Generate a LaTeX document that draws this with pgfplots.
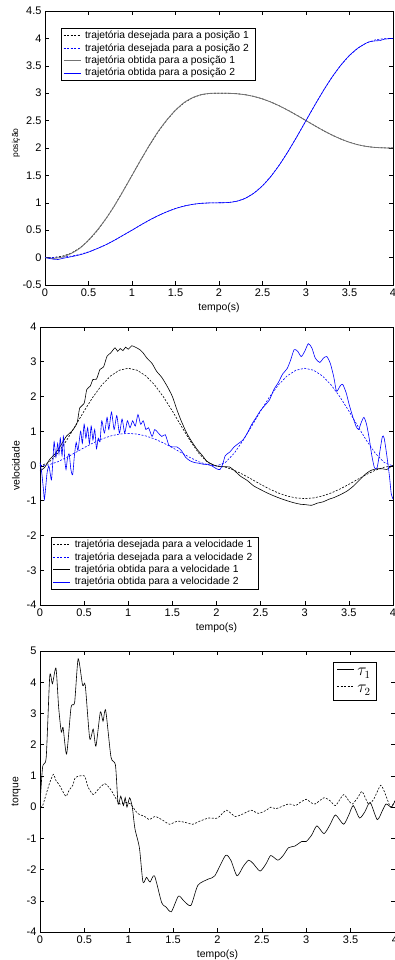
\documentclass[border=0pt]{standalone}
\usepackage{fontspec}
\setmainfont{Liberation Sans}
\usepackage{pgfplots}
\pgfplotsset{compat=1.18}
\definecolor{mblue}{rgb}{0,0,1}
\newcommand{\fs}{\fontsize{11}{13}\selectfont}
\newcommand{\fl}{\fontsize{10.3}{12}\selectfont}
\newcommand{\fx}{\fontsize{10.4}{12}\selectfont}
\pgfplotsset{
  mstyle/.style={
    scale only axis, anchor=south west,
    xmin=0, xmax=4,
    xtick={0,0.5,1,1.5,2,2.5,3,3.5,4},
    tick align=inside,
    major tick length=4pt,
    ticklabel style={font=\fs},
    /pgf/number format/assume math mode=true,
    xlabel={tempo(s)},
    every axis x label/.style={at={(rel axis cs:0.5,0)}, yshift=-23pt, anchor=center, font=\fx},
    axis line style={line width=0.5pt},
    every tick/.style={line width=0.5pt, black},
    legend cell align=left,
    legend style={font=\fl, draw=black, line width=0.5pt, inner xsep=2pt, inner ysep=1.5pt, row sep=0.3pt, fill=white,
      nodes={inner ysep=1.5pt, inner xsep=4pt}},
    legend image code/.code={\draw[##1] (0pt,0pt) -- (17pt,0pt);},
    every axis plot/.append style={line width=0.6pt},
  },
  ylab/.style 2 args={ylabel={#1}, every axis y label/.style={at={(rel axis cs:0,0.5)}, xshift=-#2, rotate=90, anchor=center, font=\fx}},
  dsh/.style={dash pattern=on 2pt off 1.5pt},
}
\begin{document}
\begin{tikzpicture}
% ---------------- Plot 1: posicao ----------------
\begin{axis}[mstyle, at={(45pt,675pt)}, width=348pt, height=274pt,
  ymin=-0.5, ymax=4.5, ytick={-0.5,0,0.5,1,1.5,2,2.5,3,3.5,4,4.5},
  ylabel={posição},
  every axis y label/.style={at={(rel axis cs:0,0.5)}, xshift=-29pt, yshift=5pt, rotate=90, anchor=center, font=\fontsize{8.5}{10}\selectfont},
  legend style={at={(0.046,0.938)}, anchor=north west}]
\addplot[black, dsh] coordinates {
(0,0) (0.1,0.0035) (0.2,0.0257) (0.3,0.0798) (0.4,0.1738) (0.5,0.3106) (0.6,0.4892) (0.7,0.7055) (0.8,0.9523) (0.9,1.2206) (1.0,1.5) (1.1,1.7794) (1.2,2.0477) (1.3,2.2945) (1.4,2.5108) (1.5,2.6894) (1.6,2.8262) (1.7,2.9202) (1.8,2.9743) (1.9,2.9965) (2.0,3)
(2.1,2.9988) (2.2,2.9914) (2.3,2.9734) (2.4,2.9421) (2.5,2.8965) (2.6,2.8369) (2.7,2.7648) (2.8,2.6826) (2.9,2.5931) (3.0,2.5) (3.1,2.4069) (3.2,2.3174) (3.3,2.2352) (3.4,2.1631) (3.5,2.1035) (3.6,2.0579) (3.7,2.0266) (3.8,2.0086) (3.9,2.0012) (4.0,2)};
\addlegendentry{trajetória desejada para a posição 1}
\addplot[mblue, dsh] coordinates {
(0,0) (0.1,0.0012) (0.2,0.0086) (0.3,0.0266) (0.4,0.0579) (0.5,0.1035) (0.6,0.1631) (0.7,0.2352) (0.8,0.3174) (0.9,0.4069) (1.0,0.5) (1.1,0.5931) (1.2,0.6826) (1.3,0.7648) (1.4,0.8369) (1.5,0.8965) (1.6,0.9421) (1.7,0.9734) (1.8,0.9914) (1.9,0.9988) (2.0,1)
(2.1,1.0035) (2.2,1.0257) (2.3,1.0798) (2.4,1.1738) (2.5,1.3106) (2.6,1.4892) (2.7,1.7055) (2.8,1.9523) (2.9,2.2206) (3.0,2.5) (3.1,2.7794) (3.2,3.0477) (3.3,3.2945) (3.4,3.5108) (3.5,3.6894) (3.6,3.8262) (3.7,3.9202) (3.8,3.9743) (3.9,3.9965) (4.0,4)};
\addlegendentry{trajetória desejada para a posição 2}
\addplot[black!55, line width=0.8pt, smooth] coordinates {
(0,0) (0.1,-0.015) (0.2,0.01) (0.3,0.075) (0.4,0.17) (0.5,0.32) (0.6,0.5) (0.7,0.71) (0.8,0.95) (0.9,1.22) (1.0,1.5) (1.1,1.78) (1.2,2.05) (1.3,2.3) (1.4,2.51) (1.5,2.69) (1.6,2.83) (1.7,2.92) (1.8,2.975) (1.9,2.997) (2.0,3)
(2.1,2.999) (2.2,2.99) (2.3,2.972) (2.4,2.94) (2.5,2.895) (2.6,2.835) (2.7,2.763) (2.8,2.681) (2.9,2.592) (3.0,2.5) (3.1,2.407) (3.2,2.318) (3.3,2.236) (3.4,2.164) (3.5,2.104) (3.6,2.058) (3.7,2.027) (3.8,2.01) (3.9,2.002) (4.0,2)};
\addlegendentry{trajetória obtida para a posição 1}
\addplot[mblue, line width=0.6pt, smooth] coordinates {
(0,0) (0.1,-0.03) (0.15,-0.035) (0.2,-0.015) (0.3,0.015) (0.4,0.05) (0.5,0.1) (0.6,0.165) (0.7,0.235) (0.8,0.318) (0.9,0.41) (1.0,0.5) (1.1,0.595) (1.2,0.685) (1.3,0.765) (1.4,0.835) (1.5,0.895) (1.6,0.94) (1.7,0.972) (1.8,0.99) (1.9,0.998) (2.0,1)
(2.1,1.004) (2.2,1.027) (2.3,1.08) (2.4,1.175) (2.5,1.31) (2.6,1.488) (2.7,1.705) (2.8,1.952) (2.9,2.22) (3.0,2.5) (3.1,2.779) (3.2,3.047) (3.3,3.294) (3.4,3.51) (3.5,3.69) (3.6,3.826) (3.7,3.92) (3.75,3.945) (3.8,3.955) (3.85,3.96) (3.9,3.985) (4.0,4)};
\addlegendentry{trajetória obtida para a posição 2}
\end{axis}
% ---------------- Plot 2: velocidade ----------------
\begin{axis}[mstyle, at={(40pt,355pt)}, width=353pt, height=278pt,
  ymin=-4, ymax=4, ytick={-4,-3,-2,-1,0,1,2,3,4},
  ylab={velocidade}{24pt},
  legend style={at={(0.031,0.245)}, anchor=north west}]
\addplot[black, dsh] coordinates {
(0,0) (0.1,0.1015) (0.2,0.3645) (0.3,0.7315) (0.4,1.152) (0.5,1.582) (0.6,1.9845) (0.7,2.329) (0.8,2.592) (0.9,2.7565) (1.0,2.8125) (1.1,2.7565) (1.2,2.592) (1.3,2.329) (1.4,1.9845) (1.5,1.582) (1.6,1.152) (1.7,0.7315) (1.8,0.3645) (1.9,0.1015) (2.0,0)
(2.1,-0.0338) (2.2,-0.1215) (2.3,-0.2438) (2.4,-0.384) (2.5,-0.5273) (2.6,-0.6615) (2.7,-0.7763) (2.8,-0.864) (2.9,-0.9188) (3.0,-0.9375) (3.1,-0.9188) (3.2,-0.864) (3.3,-0.7763) (3.4,-0.6615) (3.5,-0.5273) (3.6,-0.384) (3.7,-0.2438) (3.8,-0.1215) (3.9,-0.0338) (4.0,0)};
\addlegendentry{trajetória desejada para a velocidade 1}
\addplot[mblue, dsh] coordinates {
(0,0) (0.1,0.0338) (0.2,0.1215) (0.3,0.2438) (0.4,0.384) (0.5,0.5273) (0.6,0.6615) (0.7,0.7763) (0.8,0.864) (0.9,0.9188) (1.0,0.9375) (1.1,0.9188) (1.2,0.864) (1.3,0.7763) (1.4,0.6615) (1.5,0.5273) (1.6,0.384) (1.7,0.2438) (1.8,0.1215) (1.9,0.0338) (2.0,0)
(2.1,0.1015) (2.2,0.3645) (2.3,0.7315) (2.4,1.152) (2.5,1.582) (2.6,1.9845) (2.7,2.329) (2.8,2.592) (2.9,2.7565) (3.0,2.8125) (3.1,2.7565) (3.2,2.592) (3.3,2.329) (3.4,1.9845) (3.5,1.582) (3.6,1.152) (3.7,0.7315) (3.8,0.3645) (3.9,0.1015) (4.0,0)};
\addlegendentry{trajetória desejada para a velocidade 2}
\addplot[black, smooth, tension=0.4] coordinates {
(0,-0.14) (0.05,-0.05) (0.11,0.19) (0.17,0.35) (0.23,0.57) (0.3,0.86) (0.36,1.0) (0.42,1.24) (0.45,1.67) (0.5,1.8) (0.53,2.2) (0.57,2.3) (0.6,2.49) (0.64,2.5) (0.68,2.78) (0.72,2.85) (0.76,3.16) (0.8,3.25) (0.85,3.40) (0.88,3.3) (0.91,3.38) (0.94,3.32) (0.97,3.42) (1.0,3.36) (1.04,3.46) (1.08,3.42) (1.13,3.35) (1.17,3.25) (1.21,3.11) (1.27,2.95) (1.32,2.73) (1.38,2.55) (1.44,2.30) (1.5,2.0) (1.55,1.63) (1.6,1.3) (1.66,0.96) (1.72,0.7) (1.78,0.48) (1.84,0.3) (1.89,0.14) (1.95,0.05) (2.0,0) (2.08,-0.02) (2.15,-0.03) (2.21,-0.15) (2.27,-0.29) (2.35,-0.42) (2.42,-0.57) (2.5,-0.68) (2.57,-0.77) (2.65,-0.86) (2.72,-0.93) (2.8,-1.0) (2.88,-1.06) (2.95,-1.10) (3.0,-1.11) (3.08,-1.13) (3.14,-1.07) (3.21,-1.03) (3.27,-0.96) (3.33,-0.91) (3.4,-0.83) (3.48,-0.72) (3.55,-0.58) (3.63,-0.38) (3.68,-0.25) (3.74,-0.14) (3.78,-0.1) (3.82,-0.08) (3.88,-0.08) (3.93,-0.1) (3.97,-0.03) (4.0,0.02)};
\addlegendentry{trajetória obtida para a velocidade 1}
\addplot[mblue, smooth, tension=0.4] coordinates {
(0,0.1) (0.02,-0.2) (0.04,-0.7) (0.05,-0.96) (0.065,-0.6) (0.08,-0.2) (0.1,0.0) (0.115,-0.2) (0.13,-0.4) (0.145,0.1) (0.16,0.7) (0.18,0.25) (0.2,0.65) (0.215,0.35) (0.23,0.8) (0.25,0.3) (0.265,0.85) (0.28,0.2) (0.295,-0.1) (0.31,0.2) (0.33,0.35) (0.35,-0.1) (0.37,-0.25) (0.39,0.3) (0.41,0.68) (0.43,0.45) (0.46,1.0) (0.48,0.65) (0.5,1.2) (0.52,0.8) (0.54,1.1) (0.56,0.65) (0.58,1.15) (0.6,0.75) (0.62,1.05) (0.64,0.5) (0.66,0.8) (0.68,0.7) (0.7,1.3) (0.73,0.95) (0.76,1.4) (0.78,1.05) (0.81,1.55) (0.84,1.05) (0.87,1.45) (0.9,0.95) (0.93,1.35) (0.96,0.95) (0.99,1.3) (1.02,1.1) (1.05,1.3) (1.08,1.15) (1.11,1.48) (1.14,1.2) (1.17,1.3) (1.2,1.05) (1.23,1.1) (1.27,0.85) (1.3,1.05) (1.34,0.95) (1.38,0.85) (1.42,0.9) (1.46,0.6) (1.5,0.55) (1.55,0.55) (1.6,0.45) (1.65,0.25) (1.7,0.15) (1.75,0.1) (1.8,0.08) (1.85,0.05) (1.9,0.05) (1.95,0.0) (2.0,-0.08) (2.04,-0.1) (2.07,0.05) (2.1,0.3) (2.15,0.4) (2.2,0.55) (2.25,0.65) (2.3,0.75) (2.35,0.95) (2.4,1.2) (2.45,1.4) (2.5,1.6) (2.55,1.75) (2.6,1.9) (2.65,2.2) (2.7,2.4) (2.75,2.65) (2.8,2.8) (2.84,3.05) (2.88,3.35) (2.92,3.3) (2.96,3.15) (3.0,3.3) (3.04,3.52) (3.08,3.4) (3.12,3.1) (3.17,2.98) (3.21,3.1) (3.25,3.15) (3.29,2.95) (3.33,2.55) (3.36,2.15) (3.4,2.3) (3.43,2.35) (3.47,2.1) (3.5,1.8) (3.54,1.45) (3.58,1.15) (3.61,1.05) (3.64,1.25) (3.67,1.4) (3.7,1.2) (3.73,0.8) (3.76,0.3) (3.79,-0.05) (3.82,-0.05) (3.85,0.4) (3.88,0.85) (3.9,0.8) (3.93,0.3) (3.96,-0.3) (3.98,-0.8) (4.0,-0.95)};
\addlegendentry{trajetória obtida para a velocidade 2}
\end{axis}
% ---------------- Plot 3: torque ----------------
\begin{axis}[mstyle, at={(40pt,28pt)}, width=355pt, height=281pt,
  ymin=-4, ymax=5, ytick={-4,-3,-2,-1,0,1,2,3,4,5},
  ylab={torque}{24pt},
  legend style={at={(0.949,0.961)}, anchor=north east, font=\fontsize{16}{16}\selectfont, row sep=2pt, inner xsep=3pt, inner ysep=3pt,
    nodes={inner ysep=3pt, inner xsep=3pt}},
  legend image code/.code={\draw[#1] (0pt,3pt) -- (17pt,3pt);}]
\addplot[black, smooth, tension=0.4] coordinates {
(0,0.1) (0.03,1.3) (0.07,1.6) (0.11,4.2) (0.14,3.95) (0.18,4.45) (0.21,3.2) (0.24,2.4) (0.26,2.55) (0.3,1.7) (0.35,3.2) (0.39,3.35) (0.43,4.75) (0.48,3.9) (0.51,3.9) (0.56,2.2) (0.6,2.5) (0.63,1.95) (0.68,3.05) (0.71,2.75) (0.74,3.1) (0.8,1.6) (0.85,1.35) (0.88,0.1) (0.91,0.35) (0.94,0.05) (0.96,0.3) (0.98,0.0) (1.01,0.3) (1.04,0.0) (1.07,-0.7) (1.12,-1.3) (1.16,-2.4) (1.2,-2.25) (1.24,-2.4) (1.29,-2.2) (1.37,-3.05) (1.42,-3.2) (1.48,-3.35) (1.56,-2.85) (1.62,-3.0) (1.7,-3.15) (1.78,-2.5) (1.9,-2.3) (1.97,-2.2) (2.09,-1.55) (2.15,-1.7) (2.22,-2.2) (2.29,-1.9) (2.35,-1.7) (2.4,-1.8) (2.48,-2.05) (2.55,-1.8) (2.6,-1.55) (2.68,-1.7) (2.74,-1.55) (2.8,-1.3) (2.87,-1.25) (2.95,-1.1) (3.0,-1.1) (3.06,-0.9) (3.12,-0.6) (3.2,-0.85) (3.27,-0.55) (3.33,-0.25) (3.42,-0.55) (3.48,-0.25) (3.53,0.05) (3.6,-0.35) (3.66,-0.15) (3.72,0.15) (3.8,-0.4) (3.86,-0.1) (3.9,0.1) (3.96,0.0) (4.0,0.2)};
\addlegendentry{$\tau_1$}
\addplot[black, dsh, smooth, tension=0.4] coordinates {
(0,0) (0.03,0.05) (0.1,0.7) (0.15,1.05) (0.18,0.85) (0.22,0.7) (0.29,0.35) (0.33,0.55) (0.37,0.7) (0.4,0.95) (0.5,1.0) (0.54,0.65) (0.6,0.4) (0.65,0.55) (0.73,0.75) (0.8,0.55) (0.85,0.3) (0.9,0.1) (0.97,0.15) (1.02,0.1) (1.1,-0.2) (1.18,-0.3) (1.23,-0.4) (1.3,-0.3) (1.4,-0.45) (1.46,-0.55) (1.55,-0.45) (1.65,-0.5) (1.72,-0.55) (1.8,-0.45) (1.9,-0.35) (2.0,-0.35) (2.1,-0.1) (2.2,-0.3) (2.3,-0.2) (2.38,-0.1) (2.46,-0.2) (2.55,-0.1) (2.6,0.0) (2.66,-0.05) (2.8,0.1) (2.88,0.05) (2.93,0.15) (3.0,0.25) (3.05,0.15) (3.1,0.1) (3.2,0.3) (3.27,0.2) (3.33,0.05) (3.42,0.4) (3.48,0.2) (3.52,0.1) (3.58,0.3) (3.63,0.5) (3.7,0.1) (3.76,0.25) (3.84,0.7) (3.9,0.35) (3.95,0.0) (4.0,0.2)};
\addlegendentry{$\tau_2$}
\end{axis}
\pgfresetboundingbox
\useasboundingbox (0pt,0pt) rectangle (394pt,960pt);
\end{tikzpicture}
\end{document}
